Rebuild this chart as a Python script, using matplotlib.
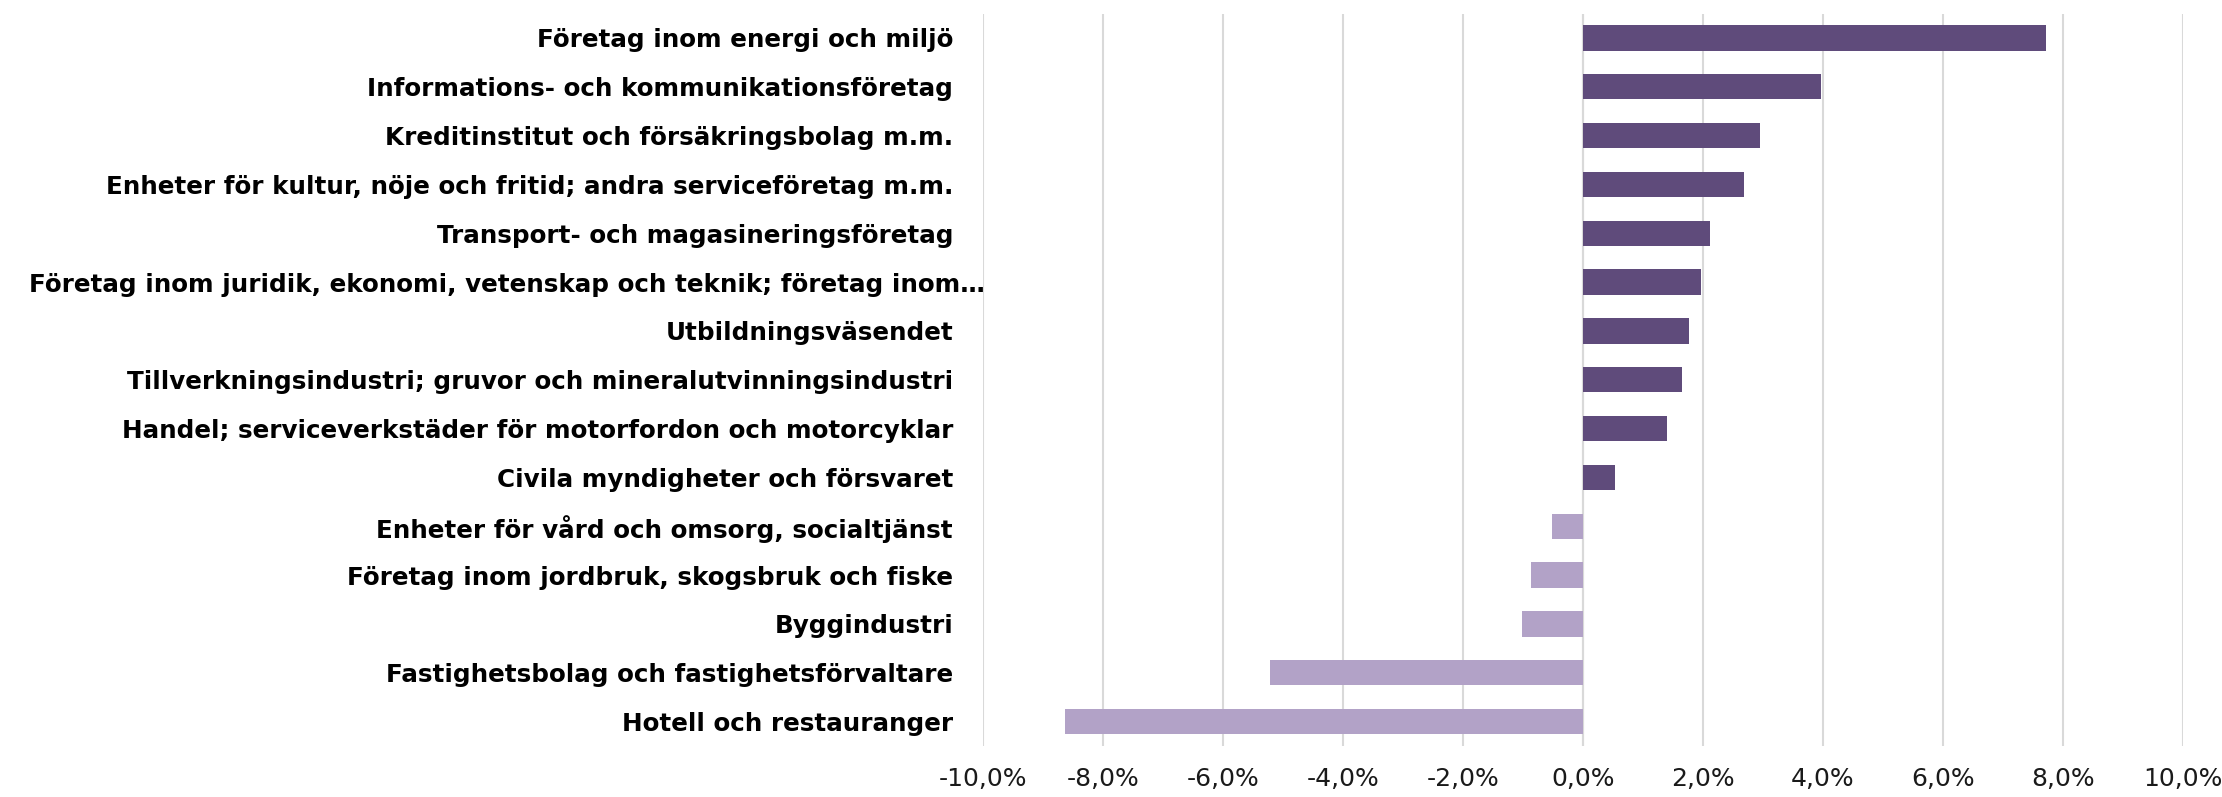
import matplotlib
matplotlib.use("Agg")
import matplotlib.pyplot as plt
import matplotlib.transforms as mtransforms
import numpy as np

# categories, top to bottom
categories = [
    "Företag inom energi och miljö",
    "Informations- och kommunikationsföretag",
    "Kreditinstitut och försäkringsbolag m.m.",
    "Enheter för kultur, nöje och fritid; andra serviceföretag m.m.",
    "Transport- och magasineringsföretag",
    "Företag inom juridik, ekonomi, vetenskap och teknik; företag inom…",
    "Utbildningsväsendet",
    "Tillverkningsindustri; gruvor och mineralutvinningsindustri",
    "Handel; serviceverkstäder för motorfordon och motorcyklar",
    "Civila myndigheter och försvaret",
    "Enheter för vård och omsorg, socialtjänst",
    "Företag inom jordbruk, skogsbruk och fiske",
    "Byggindustri",
    "Fastighetsbolag och fastighetsförvaltare",
    "Hotell och restauranger",
]
values = [7.71, 3.96, 2.95, 2.68, 2.11, 1.97, 1.77, 1.65, 1.40, 0.54,
          -0.52, -0.86, -1.02, -5.22, -8.63]
xticks = [-10, -8, -6, -4, -2, 0, 2, 4, 6, 8, 10]
xticklabels = ["-10,0%", "-8,0%", "-6,0%", "-4,0%", "-2,0%", "0,0%",
               "2,0%", "4,0%", "6,0%", "8,0%", "10,0%"]

dark = "#5F4B7B"
light = "#B2A2C7"

fig = plt.figure(figsize=(22.22, 7.97), dpi=100)
ax = fig.add_axes([0.4424, 0.064, 0.540, 0.919])

y = np.arange(len(categories))
colors = [dark if v >= 0 else light for v in values]
ax.barh(y, values, height=0.52, color=colors, zorder=3)

ax.set_ylim(len(categories) - 0.5, -0.5)
ax.set_xlim(-10, 10)
ax.set_xticks(xticks)
ax.set_xticklabels(xticklabels, fontsize=18, family="DejaVu Sans", color="#1a1a1a")
ax.set_yticks(y)
ax.set_yticklabels(categories, fontsize=17.7, family="DejaVu Sans", fontweight="bold")
ax.tick_params(axis="y", length=0, pad=21.6)
ax.tick_params(axis="x", length=0, pad=15)

ax.grid(axis="x", color="#D9D9D9", linewidth=1.5, zorder=0)
for s in ax.spines.values():
    s.set_visible(False)
ax.axvline(0, color="#D9D9D9", linewidth=1.5, zorder=1)

# the truncated label sits a little further right in the original
lab = ax.get_yticklabels()[5]
lab.set_transform(lab.get_transform() + mtransforms.ScaledTranslation(0.32, 0, fig.dpi_scale_trans))

fig.savefig("out.png", dpi=100)
